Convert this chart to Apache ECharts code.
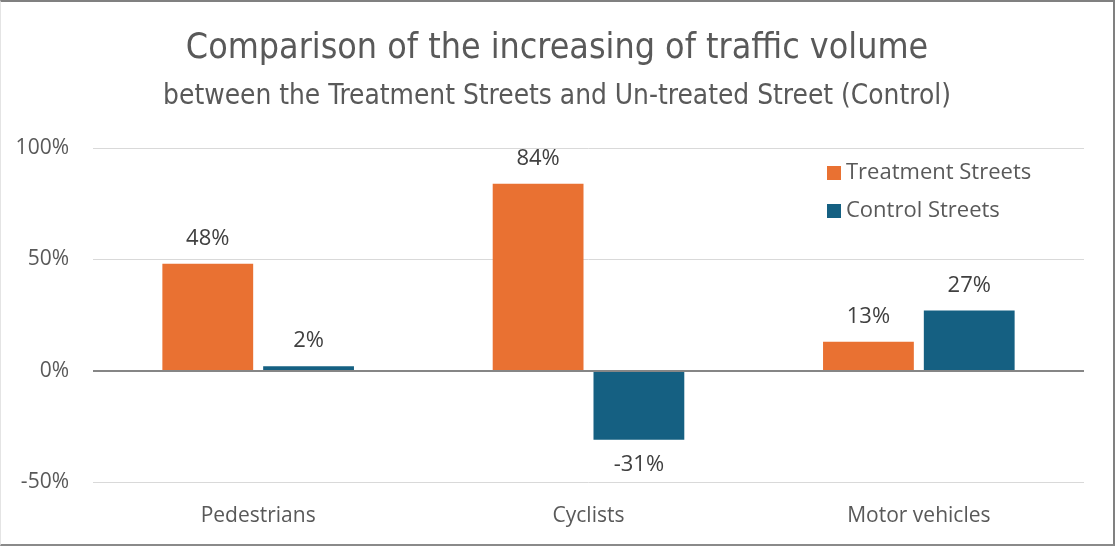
<!DOCTYPE html>
<html>
<head>
<meta charset="utf-8">
<script src="https://cdn.jsdelivr.net/npm/echarts@6/dist/echarts.min.js"></script>
<style>
  html, body { margin: 0; padding: 0; background: #fff; }
  #chart {
    width: 1115px; height: 546px; box-sizing: border-box;
    border-top: 2px solid #808080;
    border-right: 2px solid #808080;
    border-bottom: 2px solid #8a8a8a;
    border-left: 1px solid #e4e4e4;
  }
</style>
</head>
<body>
<div id="chart"></div>
<script>
// Traffic volume change (%) by road user group
const categories = ['Pedestrians', 'Cyclists', 'Motor vehicles'];
const treatmentStreets = [48, 84, 13];
const controlStreets = [2, -31, 27];
const seriesNames = ['Treatment Streets', 'Control Streets'];
const yTicks = { min: -50, max: 100, interval: 50 };

const textColor = '#595959';
const labelColor = '#404040';
const bodyFont = '"Open Sans", "Noto Sans", sans-serif';
const titleFont = '"Liberation Sans Narrow", "DejaVu Sans Condensed", sans-serif';

function withLabelSide(values) {
  return values.map(v => ({
    value: v,
    label: { position: v < 0 ? 'bottom' : 'top' }
  }));
}

const chart = echarts.init(document.getElementById('chart'), null, { renderer: 'canvas' });
chart.setOption({
  backgroundColor: '#ffffff',
  animation: false,
  title: [
    {
      text: 'Comparison of the increasing of traffic volume',
      left: 'center', top: 24,
      textStyle: { fontFamily: titleFont, fontSize: 35.5, fontWeight: 'normal', color: textColor }
    },
    {
      text: 'between the Treatment Streets and Un-treated Street (Control)',
      left: 'center', top: 76,
      textStyle: { fontFamily: titleFont, fontSize: 27.8, fontWeight: 'normal', color: textColor }
    }
  ],
  legend: {
    orient: 'vertical',
    left: 821, top: 155,
    itemWidth: 14, itemHeight: 14, itemGap: 16,
    icon: 'rect',
    textStyle: { fontFamily: bodyFont, fontSize: 22, color: textColor },
    data: seriesNames
  },
  grid: { left: 92, right: 29, top: 146, bottom: 62, containLabel: false },
  xAxis: {
    type: 'category',
    data: categories,
    axisLine: { show: false },
    axisTick: { show: false },
    axisLabel: { fontFamily: bodyFont, fontSize: 21, color: textColor, margin: 24 }
  },
  yAxis: {
    type: 'value',
    min: yTicks.min, max: yTicks.max, interval: yTicks.interval,
    axisLine: { show: false },
    axisTick: { show: false },
    axisLabel: {
      fontFamily: bodyFont, fontSize: 21, color: textColor, margin: 24,
      formatter: v => v + '%'
    },
    splitLine: { lineStyle: { color: '#d9d9d9', width: 1 } }
  },
  series: [
    {
      name: seriesNames[0],
      type: 'bar',
      data: withLabelSide(treatmentStreets),
      itemStyle: { color: '#E97132' },
      barGap: '11%',
      barCategoryGap: '42%',
      label: {
        show: true, distance: 14,
        fontFamily: bodyFont, fontSize: 22, color: labelColor,
        formatter: p => p.value + '%'
      }
    },
    {
      name: seriesNames[1],
      type: 'bar',
      data: withLabelSide(controlStreets),
      itemStyle: { color: '#156082' },
      barGap: '11%',
      barCategoryGap: '42%',
      label: {
        show: true, distance: 14,
        fontFamily: bodyFont, fontSize: 22, color: labelColor,
        formatter: p => p.value + '%'
      },
      markLine: {
        silent: true, symbol: 'none', label: { show: false },
        lineStyle: { color: '#868686', width: 2, type: 'solid' },
        data: [{ yAxis: 0 }]
      }
    }
  ]
});
</script>
</body>
</html>
